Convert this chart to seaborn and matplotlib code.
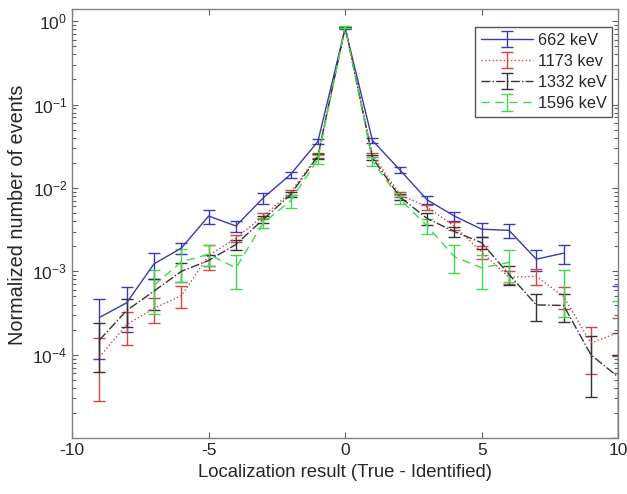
import numpy as np
import matplotlib
matplotlib.use("Agg")
import matplotlib.pyplot as plt
import matplotlib.ticker as mticker
import seaborn as sns

# Posições (True - Identified)
x = np.arange(-9, 11)

# Valores normalizados por energia (nan = sem eventos)
v662 = [2.8e-4, 4.2e-4, 1.23e-3, 1.9e-3, 4.6e-3, 3.5e-3, 7.6e-3, 1.45e-2, 3.6e-2, 0.82,
        3.7e-2, 1.65e-2, 7.2e-3, 4.6e-3, 3.2e-3, 3.1e-3, 1.4e-3, 1.65e-3, np.nan, 4.2e-4]
e662 = [1.9e-4, 2.3e-4, 4.3e-4, 3e-4, 9e-4, 5e-4, 1.1e-3, 1.2e-3, 2.5e-3, 0.02,
        2.5e-3, 1.3e-3, 8e-4, 6e-4, 6e-4, 6e-4, 4e-4, 4.4e-4, np.nan, 2.4e-4]

v1173 = [9.4e-5, 2.3e-4, 3.6e-4, 5.1e-4, 1.55e-3, 2.5e-3, 4.6e-3, 8.8e-3, 2.45e-2, 0.84,
         2.5e-2, 8.4e-3, 5.9e-3, 3.5e-3, 1.7e-3, 8.5e-4, 8.7e-4, 5.0e-4, 1.38e-4, 1.85e-4]
e1173 = [6.6e-5, 1e-4, 1.2e-4, 1.5e-4, 5e-4, 2.5e-4, 4e-4, 6e-4, 1.5e-3, 0.02,
         1.5e-3, 6e-4, 4e-4, 4e-4, 3e-4, 1.5e-4, 1.9e-4, 1.5e-4, 7.9e-5, 8.9e-5]

v1332 = [1.5e-4, 3.4e-4, 5.8e-4, 1.0e-3, 1.35e-3, 2.1e-3, 4.2e-3, 8.3e-3, 2.4e-2, 0.84,
         2.3e-2, 7.8e-3, 4.3e-3, 3.0e-3, 2.2e-3, 9.2e-4, 3.96e-4, 3.9e-4, 1.0e-4, 5.4e-5]
e1332 = [8.8e-5, 1.25e-4, 2.4e-4, 2.6e-4, 2e-4, 2.9e-4, 4e-4, 6e-4, 1.5e-3, 0.02,
         1.5e-3, 6e-4, 7e-4, 4e-4, 3.5e-4, 2.3e-4, 1.4e-4, 1.4e-4, 6.9e-5, 4.4e-5]

v1596 = [np.nan, np.nan, 6.8e-4, 1.3e-3, 1.6e-3, 1.1e-3, 3.8e-3, 7.0e-3, 2.2e-2, 0.85,
         2.1e-2, 7.4e-3, 3.5e-3, 1.5e-3, 1.1e-3, 1.28e-3, np.nan, 6.6e-4, np.nan, 2.2e-4]
e1596 = [np.nan, np.nan, 3.7e-4, 5.5e-4, 4.5e-4, 4.8e-4, 5e-4, 1.2e-3, 2.5e-3, 0.02,
         2.5e-3, 9e-4, 7e-4, 5.5e-4, 4.8e-4, 5.3e-4, np.nan, 3.8e-4, np.nan, 2.15e-4]

series = [
    ("662 keV", v662, e662, "#3a3ab0", "-"),
    ("1173 kev", v1173, e1173, "#d04545", ":"),
    ("1332 keV", v1332, e1332, "#333333", "-."),
    ("1596 keV", v1596, e1596, "#3ed94a", (0, (6, 4))),
]

sns.set_theme(style="white")
plt.rcParams['font.family'] = ['Liberation Sans', 'DejaVu Sans']
plt.rcParams['mathtext.fontset'] = 'custom'
plt.rcParams['mathtext.rm'] = 'Liberation Sans'
plt.rcParams['mathtext.it'] = 'Liberation Sans:italic'
plt.rcParams['axes.unicode_minus'] = False
plt.rcParams['xtick.direction'] = 'in'
plt.rcParams['ytick.direction'] = 'in'

fig = plt.figure(figsize=(6.27, 4.94), dpi=100)
ax = fig.add_axes([0.115, 0.113, 0.871, 0.869])

for nome, v, e, cor, estilo in series:
    ax.errorbar(x, v, yerr=e, color=cor, linestyle=estilo, linewidth=1.0,
                elinewidth=1.0, capsize=4, capthick=1.0, label=nome)

ax.set_yscale('log')
ax.set_xlim(-10, 10)
ax.set_ylim(1e-5, 1.4)
ax.set_xticks([-10, -5, 0, 5, 10])
ax.set_yticks([1e-4, 1e-3, 1e-2, 1e-1, 1e0])
ax.yaxis.set_minor_locator(mticker.LogLocator(base=10, subs=np.arange(2, 10), numticks=20))
ax.yaxis.set_minor_formatter(mticker.NullFormatter())

ax.tick_params(axis='both', which='both', direction='in', bottom=True, left=True,
               top=True, right=True, colors='#606060', labelcolor='#262626', labelsize=12.5)
ax.tick_params(axis='y', which='minor', length=3, width=0.8)
ax.tick_params(axis='both', which='major', length=4.5, width=0.8)
for s in ax.spines.values():
    s.set_color('#808080')
    s.set_linewidth(1.0)

ax.set_xlabel("Localization result (True - Identified)", fontsize=13.3, color='#262626')
ax.set_ylabel("Normalized number of events", fontsize=14.3, color='#262626')
ax.yaxis.set_label_coords(-0.083, 0.52)

leg = ax.legend(loc='upper right', bbox_to_anchor=(0.989, 0.958), fontsize=11.7,
                fancybox=False, framealpha=1, edgecolor='#555555', borderaxespad=0,
                handlelength=3.2, borderpad=0.35, labelspacing=0.38, handletextpad=0.3)
leg.get_frame().set_linewidth(1.0)

fig.savefig("out.png", dpi=100)
